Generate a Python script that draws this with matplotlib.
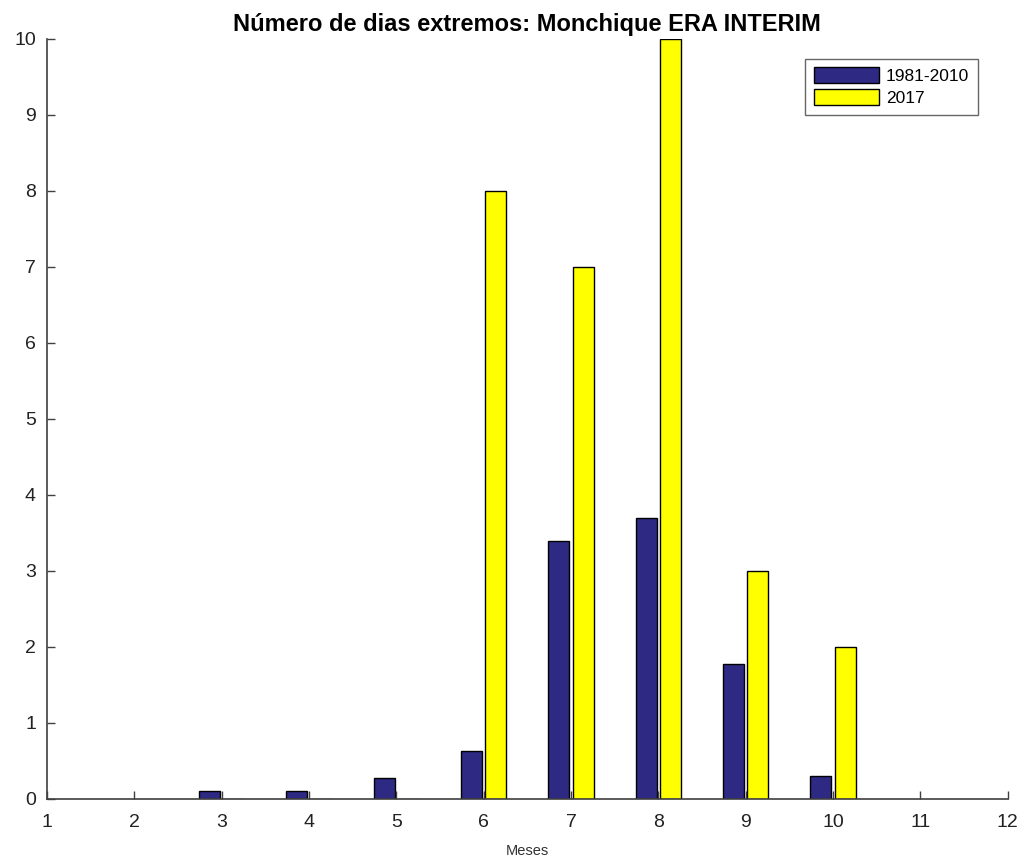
import numpy as np
import matplotlib.pyplot as plt

plt.rcParams['font.family'] = ['Liberation Sans', 'DejaVu Sans']

# dados
meses = [3, 4, 5, 6, 7, 8, 9, 10]
clima_1981_2010 = [0.10, 0.10, 0.27, 0.63, 3.4, 3.7, 1.77, 0.30]
ano_2017 = [0, 0, 0, 8, 7, 10, 3, 2]

AZUL = '#2e2a84'
AMARELO = '#ffff00'
CINZA = '#404040'

fig = plt.figure(figsize=(10.25, 8.57), dpi=100)
ax = fig.add_axes([0.0459, 0.0677, 0.9371, 0.8868])

x = np.array(meses)
largura = 0.24
ax.bar(x - 0.14, clima_1981_2010, width=largura, color=AZUL,
       edgecolor='black', linewidth=1.0, label='1981-2010')
ax.bar(x + 0.14, ano_2017, width=largura, color=AMARELO,
       edgecolor='black', linewidth=1.0, label='2017')

ax.set_xlim(1, 12)
ax.set_ylim(0, 10)
ax.set_xticks(range(1, 13))
ax.set_yticks(range(0, 11))

for lado in ['top', 'right']:
    ax.spines[lado].set_visible(False)
for lado in ['left', 'bottom']:
    ax.spines[lado].set_color(CINZA)
    ax.spines[lado].set_linewidth(1.2)

ax.tick_params(direction='in', length=6, width=1.0, color=CINZA,
               labelcolor='#222222', labelsize=14)
ax.tick_params(axis='x', pad=11)
ax.tick_params(axis='y', pad=8)

ax.set_title('Número de dias extremos: Monchique ERA INTERIM',
             fontsize=17, fontweight='bold', pad=6)
ax.set_xlabel('Meses', fontsize=10.5, color='#333333', labelpad=9)

leg = ax.legend(loc='upper right', bbox_to_anchor=(0.969, 0.974),
                borderaxespad=0, fontsize=12.5, frameon=True, fancybox=False,
                edgecolor=CINZA, handlelength=3.75, handleheight=1.0,
                borderpad=0.5, labelspacing=0.3, handletextpad=0.4)
leg.get_frame().set_linewidth(1.0)

fig.savefig('out.png', dpi=100)
